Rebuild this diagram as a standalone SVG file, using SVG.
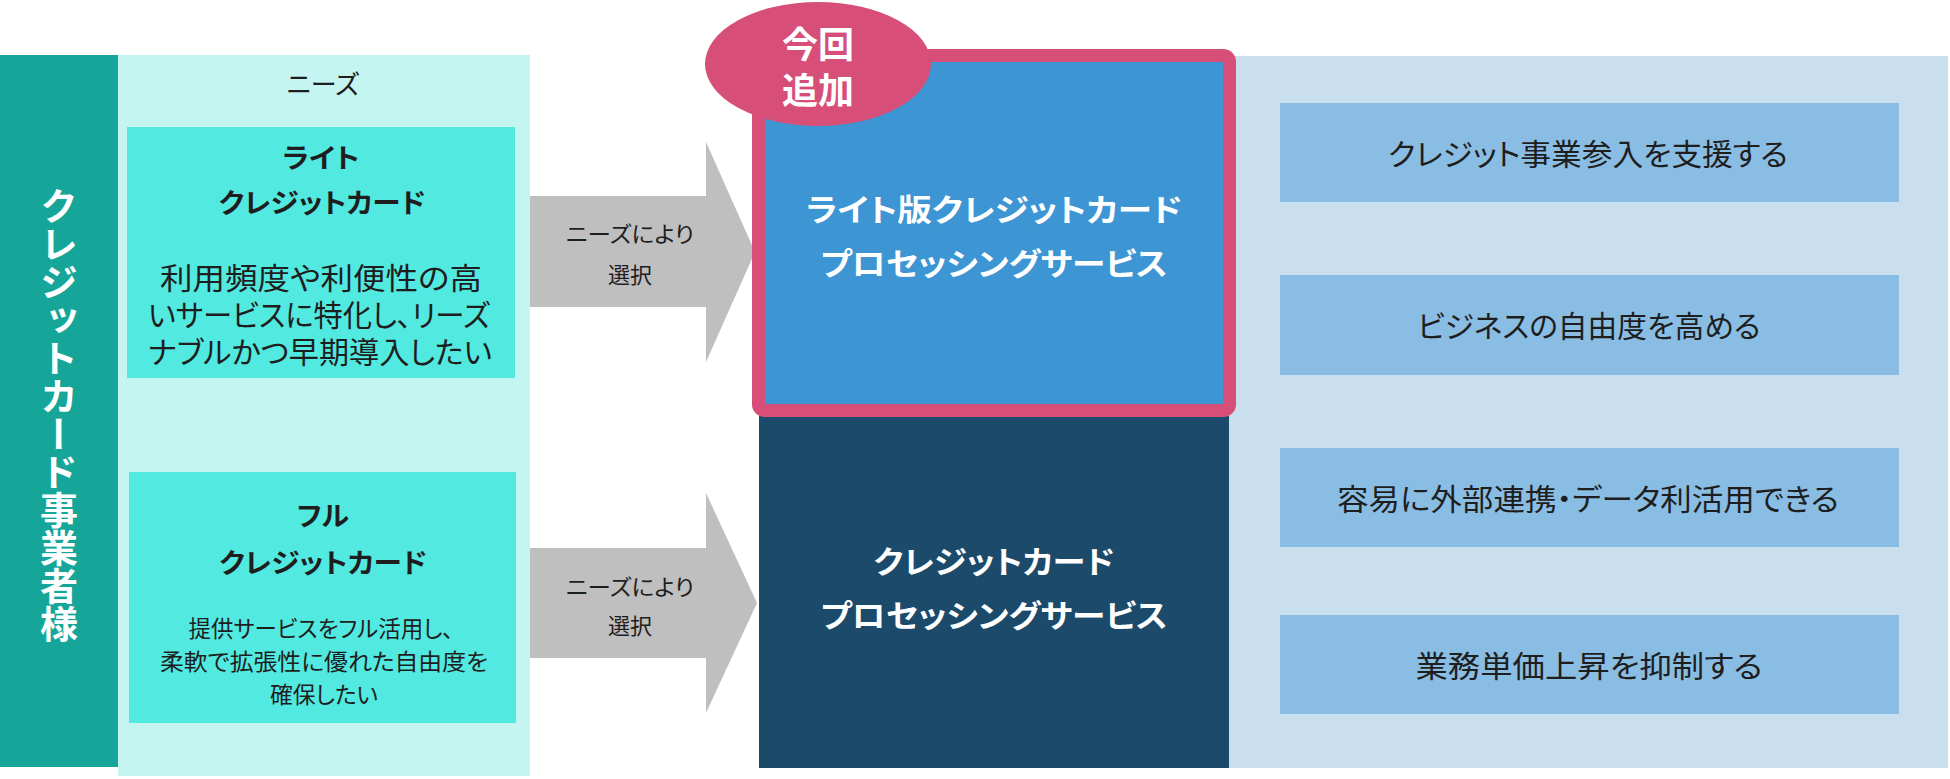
<svg xmlns="http://www.w3.org/2000/svg" width="1950" height="779" viewBox="0 0 1950 779">
<style>
text{font-family:"Noto Sans CJK JP","Noto Sans",sans-serif;font-feature-settings:"palt";dominant-baseline:central;text-anchor:middle}
.dk{fill:#1e1e1e}
.wh{fill:#ffffff}
.b{font-weight:700}
.item{fill:#8ABDE3}
</style>
<rect x="0" y="0" width="1950" height="779" fill="#ffffff"/>
<g id="customer">
<rect x="0" y="55" width="118" height="712" fill="#15A699"/>
<text class="wh b" x="59" y="187" font-size="38" style="writing-mode:vertical-rl;text-anchor:start" textLength="456" lengthAdjust="spacingAndGlyphs">クレジットカード事業者様</text>
</g>
<g id="needs">
<rect x="118" y="55" width="412" height="721" fill="#C4F5F1"/>
<text class="dk" x="323" y="82" font-size="26">ニーズ</text>
</g>
<g id="light-card">
<rect x="127" y="127" width="388" height="251" fill="#52E9E0"/>
<text class="dk b" x="321" y="156" font-size="27" textLength="77" lengthAdjust="spacingAndGlyphs">ライト</text>
<text class="dk b" x="322" y="201" font-size="27" textLength="207" lengthAdjust="spacingAndGlyphs">クレジットカード</text>
<text class="dk" x="321" y="276" font-size="30" textLength="322" lengthAdjust="spacingAndGlyphs">利用頻度や利便性の高</text>
<text class="dk" x="319" y="313" font-size="30" textLength="342" lengthAdjust="spacingAndGlyphs">いサービスに特化し、リーズ</text>
<text class="dk" x="320" y="350" font-size="30" textLength="344" lengthAdjust="spacingAndGlyphs">ナブルかつ早期導入したい</text>
</g>
<g id="full-card">
<rect x="129" y="472" width="387" height="251" fill="#52E9E0"/>
<text class="dk b" x="323" y="514" font-size="27" textLength="52" lengthAdjust="spacingAndGlyphs">フル</text>
<text class="dk b" x="323" y="561" font-size="27" textLength="208" lengthAdjust="spacingAndGlyphs">クレジットカード</text>
<text class="dk" x="321" y="627" font-size="23" textLength="265" lengthAdjust="spacingAndGlyphs">提供サービスをフル活用し、</text>
<text class="dk" x="324" y="660" font-size="23" textLength="328" lengthAdjust="spacingAndGlyphs">柔軟で拡張性に優れた自由度を</text>
<text class="dk" x="324" y="693" font-size="23" textLength="108" lengthAdjust="spacingAndGlyphs">確保したい</text>
</g>
<g id="connectors">
<polygon points="530,196 706,196 706,142 755,252 706,362 706,307 530,307" fill="#BFBFBF"/>
<text class="dk" x="630" y="232" font-size="22" textLength="128" lengthAdjust="spacingAndGlyphs">ニーズにより</text>
<text class="dk" x="630" y="273" font-size="22">選択</text>
<polygon points="530,548 706,548 706,493 757,603 706,713 706,658 530,658" fill="#BFBFBF"/>
<text class="dk" x="630" y="585" font-size="22" textLength="128" lengthAdjust="spacingAndGlyphs">ニーズにより</text>
<text class="dk" x="630" y="624" font-size="22">選択</text>
</g>
<g id="benefits">
<rect x="1229" y="56" width="719" height="712" fill="#C9DFEE"/>
<rect class="item" x="1280" y="103" width="619" height="99"/>
<text class="dk" x="1588" y="152" font-size="30" textLength="400" lengthAdjust="spacingAndGlyphs">クレジット事業参入を支援する</text>
<rect class="item" x="1280" y="275" width="619" height="100"/>
<text class="dk" x="1589" y="324" font-size="30" textLength="343" lengthAdjust="spacingAndGlyphs">ビジネスの自由度を高める</text>
<rect class="item" x="1280" y="448" width="619" height="99"/>
<text class="dk" x="1588" y="497" font-size="30" textLength="502" lengthAdjust="spacingAndGlyphs">容易に外部連携・データ利活用できる</text>
<rect class="item" x="1280" y="615" width="619" height="99"/>
<text class="dk" x="1589" y="664" font-size="30" textLength="347" lengthAdjust="spacingAndGlyphs">業務単価上昇を抑制する</text>
</g>
<g id="full-service">
<rect x="759" y="416" width="470" height="352" fill="#1B4A6B"/>
<text class="wh b" x="994" y="559" font-size="31" textLength="241" lengthAdjust="spacingAndGlyphs">クレジットカード</text>
<text class="wh b" x="994" y="613" font-size="31" textLength="347" lengthAdjust="spacingAndGlyphs">プロセッシングサービス</text>
</g>
<g id="lite-service">
<rect x="758.5" y="55.5" width="471" height="355" rx="6" fill="#3D95D3" stroke="#D74E78" stroke-width="13"/>
<text class="wh b" x="994" y="207" font-size="31" textLength="376" lengthAdjust="spacingAndGlyphs">ライト版クレジットカード</text>
<text class="wh b" x="994" y="261" font-size="31" textLength="347" lengthAdjust="spacingAndGlyphs">プロセッシングサービス</text>
</g>
<g id="new-badge">
<ellipse cx="818" cy="64" rx="113" ry="62" fill="#D74E78"/>
<text class="wh b" x="818" y="42" font-size="36">今回</text>
<text class="wh b" x="818" y="88" font-size="36">追加</text>
</g>
</svg>
